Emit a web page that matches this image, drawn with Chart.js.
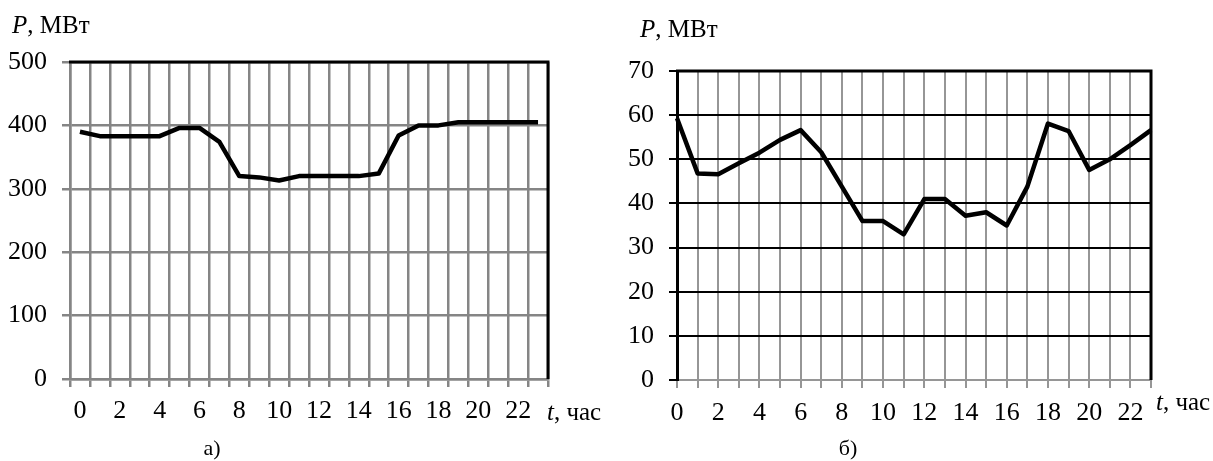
<!DOCTYPE html>
<html lang="ru">
<head>
<meta charset="utf-8">
<title>P, МВт</title>
<script src="https://cdn.jsdelivr.net/npm/chart.js@4.4.1/dist/chart.umd.min.js"></script>
<style>
  body { margin: 0; background: #fff; width: 1213px; height: 461px; position: relative; overflow: hidden;
         font-family: "Liberation Serif", "Times New Roman", serif; color: #000; }
  canvas { position: absolute; top: 0; }
  #chartA { left: 0; }
  #chartB { left: 600px; }
  .lbl { position: absolute; font-size: 25px; line-height: 1; white-space: nowrap; }
  .cap { position: absolute; font-size: 22px; line-height: 1; width: 40px; text-align: center; }
</style>
</head>
<body>
<canvas id="chartA" width="620" height="461"></canvas>
<canvas id="chartB" width="613" height="461"></canvas>

<div class="lbl" style="left:12px; top:12px;"><i>P</i>, МВт</div>
<div class="lbl" style="left:640px; top:16px;"><i>P</i>, МВт</div>
<div class="lbl" style="left:547px; top:399px;"><i>t</i>, час</div>
<div class="lbl" style="left:1156px; top:389px;"><i>t</i>, час</div>
<div class="cap" style="left:192px; top:437px;">а)</div>
<div class="cap" style="left:828px; top:437px;">б)</div>

<script>
// hours of the day
const hours = [0, 1, 2, 3, 4, 5, 6, 7, 8, 9, 10, 11, 12, 13, 14, 15, 16, 17, 18, 19, 20, 21, 22, 23];

// a) load, MW
const powerA = [390, 383, 383, 383, 383, 396, 396, 374, 320, 318, 313, 320,
                320, 320, 320, 324, 384, 400, 400, 405, 405, 405, 405, 405];
const yTicksA = [0, 100, 200, 300, 400, 500];

// б) load, MW
const powerB = [59.3, 46.8, 46.6, 49.1, 51.5, 54.4, 56.6, 51.6, 43.8, 36, 36, 33,
                41, 41, 37.2, 38, 35, 43.8, 58.1, 56.4, 47.6, 50, 53.2, 56.6];
const yTicksB = [0, 10, 20, 30, 40, 50, 60, 70];

const FONT = { family: '"Liberation Serif", "Times New Roman", serif', size: 26 };

// black top and right edge of the plot
const framePlugin = {
  id: 'frame',
  beforeDatasetsDraw(chart) {
    const { ctx, chartArea: a } = chart;
    ctx.save();
    ctx.strokeStyle = '#000';
    ctx.lineWidth = 3;
    ctx.beginPath();
    ctx.moveTo(a.left - 1, a.top);
    ctx.lineTo(a.right, a.top);
    ctx.lineTo(a.right, a.bottom);
    ctx.stroke();
    ctx.restore();
  }
};

function makeChart(id, values, yTicks, cfg) {
  const yMax = yTicks[yTicks.length - 1];
  return new Chart(document.getElementById(id), {
    type: 'line',
    data: {
      labels: hours,
      datasets: [{
        data: values,
        borderColor: '#000',
        borderWidth: 4.5,
        borderJoinStyle: 'round',
        pointRadius: 0,
        tension: 0
      }]
    },
    options: {
      responsive: false,
      animation: false,
      layout: { padding: cfg.padding },
      plugins: { legend: { display: false }, tooltip: { enabled: false } },
      scales: {
        x: {
          type: 'category',
          offset: cfg.offset,
          grid: {
            offset: cfg.offset,
            color: cfg.vGrid,
            lineWidth: cfg.gridWidth,
            tickLength: 8,
            tickColor: cfg.vGrid,
            tickWidth: cfg.gridWidth
          },
          border: { color: cfg.hGridColor, width: cfg.gridWidth },
          ticks: {
            autoSkip: false,
            maxRotation: 0,
            minRotation: 0,
            padding: cfg.xPad,
            color: '#000',
            font: FONT,
            callback: (v, i) => (hours[i] % 2 === 0 ? String(hours[i]) : '')
          },
          afterFit: s => { s.height = cfg.xHeight; }
        },
        y: {
          min: 0,
          max: yMax,
          afterBuildTicks: s => { s.ticks = yTicks.map(v => ({ value: v })); },
          grid: {
            color: c => (c.tick && c.tick.value === 0 ? cfg.hGridColor : cfg.hGrid),
            lineWidth: cfg.gridWidth,
            tickLength: 8,
            tickColor: cfg.yTickColor,
            tickWidth: cfg.gridWidth
          },
          border: { color: cfg.yAxisColor, width: cfg.yAxisWidth },
          ticks: { padding: 15, color: '#000', font: FONT },
          afterFit: s => { s.width = cfg.yWidth; }
        }
      }
    },
    plugins: [framePlugin]
  });
}

// a) hourly columns, grey grid
makeChart('chartA', powerA, yTicksA, {
  padding: { top: 62, right: 72, left: 0, bottom: 0 },
  offset: true,
  vGrid: '#858585',
  hGrid: '#858585',
  hGridColor: '#858585',
  yTickColor: '#858585',
  yAxisColor: '#858585',
  yAxisWidth: 2.5,
  gridWidth: 2.5,
  xPad: 9,
  xHeight: 82,
  yWidth: 70
});

// б) points on the hour lines, black horizontal grid
makeChart('chartB', powerB, yTicksB, {
  padding: { top: 71, right: 62, left: 0, bottom: 0 },
  offset: false,
  vGrid: '#969696',
  hGrid: '#000',
  hGridColor: '#969696',
  yTickColor: '#000',
  yAxisColor: '#000',
  yAxisWidth: 3,
  gridWidth: 2,
  xPad: 10,
  xHeight: 81,
  yWidth: 77
});
</script>
</body>
</html>
